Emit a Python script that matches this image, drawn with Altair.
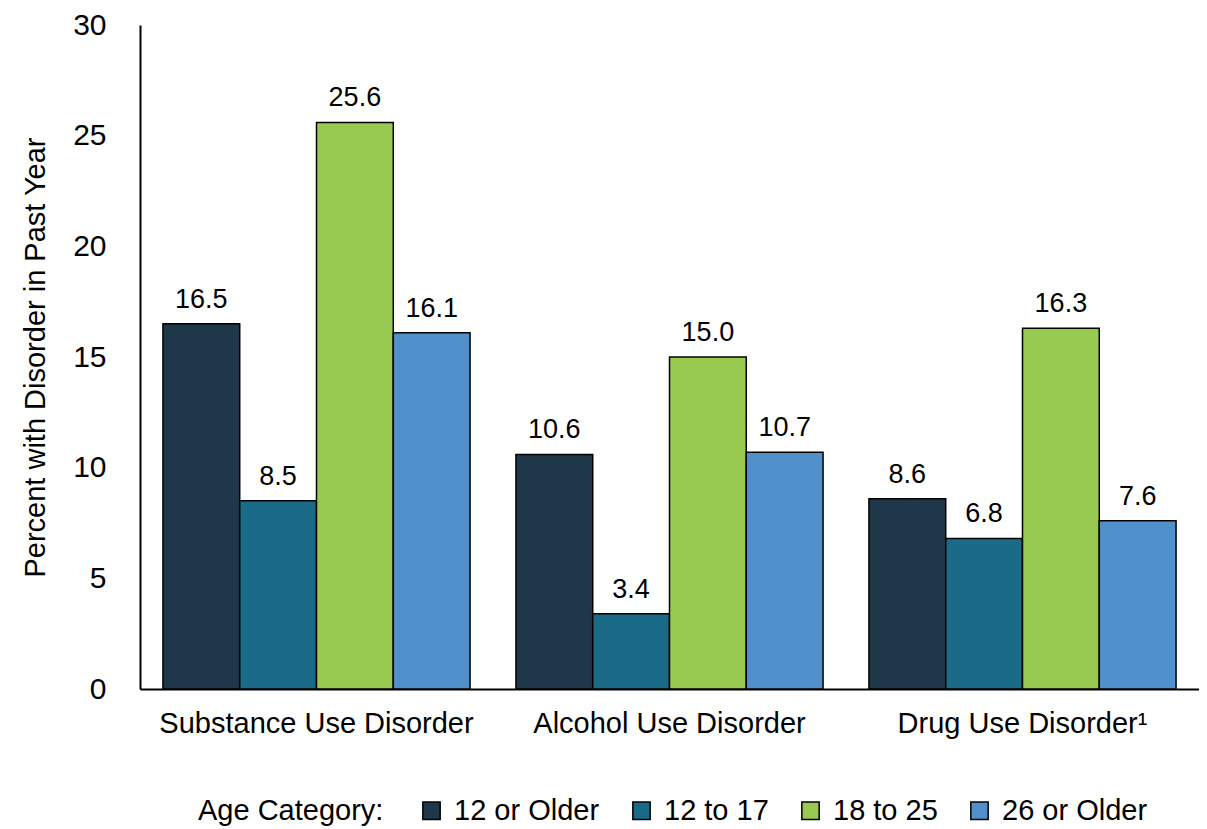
import altair as alt
import pandas as pd

categories = ["Substance Use Disorder", "Alcohol Use Disorder", "Drug Use Disorder¹"]
series = ["12 or Older", "12 to 17", "18 to 25", "26 or Older"]
values_12_or_older = [16.5, 10.6, 8.6]
values_12_to_17 = [8.5, 3.4, 6.8]
values_18_to_25 = [25.6, 15.0, 16.3]
values_26_or_older = [16.1, 10.7, 7.6]
colors = ["#1e3849", "#1b6a88", "#98ca52", "#5091cc"]
y_ticks = [0, 5, 10, 15, 20, 25, 30]

rows = []
for s, vals in zip(series, [values_12_or_older, values_12_to_17, values_18_to_25, values_26_or_older]):
    for c, v in zip(categories, vals):
        rows.append({"Disorder": c, "Age": s, "Value": v})
df = pd.DataFrame(rows)

FONT = "Liberation Sans, Arial, sans-serif"

x_enc = alt.X("Disorder:N", sort=categories, title=None,
              scale=alt.Scale(paddingInner=0.13, paddingOuter=0.065),
              axis=alt.Axis(labelAngle=0, ticks=False, labelPadding=20, labelFontSize=29,
                            labelLimit=0, domainColor="black", domainWidth=2))
xoff = alt.XOffset("Age:N", sort=series, scale=alt.Scale(paddingInner=0, paddingOuter=0))

bars = alt.Chart(df).mark_bar(stroke="black", strokeWidth=1.5).encode(
    x=x_enc,
    xOffset=xoff,
    y=alt.Y("Value:Q", title="Percent with Disorder in Past Year",
            scale=alt.Scale(domain=[0, 30], nice=False),
            axis=alt.Axis(values=y_ticks, ticks=False, grid=False, labelPadding=34,
                          labelFontSize=30, titleFontSize=29, titleFontWeight="normal",
                          titlePadding=22, domainColor="black", domainWidth=2)),
    color=alt.Color("Age:N", sort=series,
                    scale=alt.Scale(domain=series, range=colors),
                    legend=alt.Legend(title="Age Category:", orient="none", legendX=58, legendY=771,
                                      direction="horizontal", titleOrient="left",
                                      symbolType="square", symbolSize=300,
                                      symbolStrokeColor="black", symbolStrokeWidth=1.5,
                                      labelFontSize=29, titleFontSize=29, titleFontWeight="normal",
                                      labelLimit=0, titleLimit=0,
                                      columnPadding=27, titlePadding=33, labelOffset=8)),
)

labels = alt.Chart(df).mark_text(dy=-24, fontSize=27, color="black", font=FONT).encode(
    x=alt.X("Disorder:N", sort=categories),
    xOffset=xoff,
    y="Value:Q",
    text=alt.Text("Value:Q", format=".1f"),
)

chart = (bars + labels).properties(
    width=1059, height=664,
    padding={"top": 2, "left": 13, "right": 0, "bottom": 0},
).configure(font=FONT).configure_view(stroke=None).configure_axis(
    labelColor="black", titleColor="black", labelFont=FONT, titleFont=FONT
).configure_legend(labelColor="black", titleColor="black", labelFont=FONT, titleFont=FONT)

chart.save("out.html", embed_options={"renderer": "svg", "actions": False})
